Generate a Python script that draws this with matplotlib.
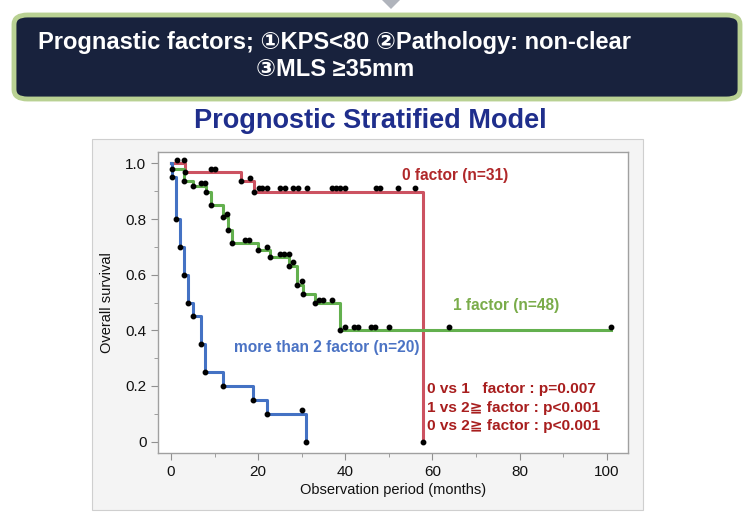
import numpy as np
import matplotlib
matplotlib.use('Agg')
import matplotlib.pyplot as plt
from matplotlib.patches import FancyBboxPatch, Rectangle, Polygon

plt.rcParams['font.family'] = ['Liberation Sans', 'DejaVu Sans']

# step curves (time in months, survival level after the drop)
red_t = [0, 3.2, 16.0, 19.0, 57.8]
red_s = [1.0, 0.968, 0.935, 0.897, 0.0]
red_cens = [1.5, 3.0, 9.2, 10.1, 18.2, 20.1, 21.0, 22.0, 25.1, 26.1, 28.1, 29.1,
            31.2, 36.9, 37.9, 38.9, 40.0, 47.1, 48.0, 52.1, 55.9]

green_t = [0, 0.3, 3.0, 5.0, 8.0, 9.1, 12.0, 13.2, 14.0, 20.0, 22.8, 27.2, 28.9,
           30.2, 33.1, 38.9]
green_s = [1.0, 0.979, 0.938, 0.917, 0.896, 0.852, 0.806, 0.76, 0.713, 0.688, 0.662,
           0.632, 0.563, 0.53, 0.497, 0.40]
green_end = 100.9
green_cens = [7.0, 7.9, 12.9, 17.0, 18.0, 22.0, 25.0, 26.0, 27.0, 28.0, 30.0, 34.0,
              35.0, 36.9, 39.9, 42.1, 42.9, 45.8, 46.8, 50.0, 63.9, 100.9]

blue_t = [0, 0.3, 1.2, 2.1, 3.1, 4.0, 5.0, 6.9, 7.8, 11.9, 18.9, 22.0, 31.0]
blue_s = [1.0, 0.95, 0.8, 0.7, 0.6, 0.5, 0.45, 0.35, 0.25, 0.2, 0.15, 0.1, 0.0]
blue_cens = [30.1]

xticks = [0, 20, 40, 60, 80, 100]
yticks = [0, 0.2, 0.4, 0.6, 0.8, 1.0]
ytick_labels = ['0', '0.2', '0.4', '0.6', '0.8', '1.0']

p_lines = ['0 vs 1   factor : p=0.007',
           '1 vs 2\u2267 factor : p<0.001',
           '0 vs 2\u2267 factor : p<0.001']


def level_at(t_list, s_list, t):
    i = np.searchsorted(t_list, t, side='right') - 1
    return s_list[max(i, 0)]


fig = plt.figure(figsize=(7.54, 5.18), dpi=100)
fig.patch.set_facecolor('white')
W, H = 754.0, 518.0

# grey panel behind the chart
fig.patches.append(Rectangle((92 / W, 1 - 510 / H), 551 / W, 371 / H,
                             transform=fig.transFigure, facecolor='#f4f4f4',
                             edgecolor='#cfcfcf', linewidth=0.8, zorder=-5))

# little arrow at the top
fig.patches.append(Polygon([(382 / W, 1.0), (400 / W, 1.0), (391 / W, 1 - 9 / H)],
                           closed=True, transform=fig.transFigure,
                           facecolor='#b0b4bc', edgecolor='none'))

# header box
fig.patches.append(FancyBboxPatch((14 / W, 1 - 99 / H), 726 / W, 84 / H,
                                  boxstyle='round,pad=0,rounding_size=0.018',
                                  transform=fig.transFigure, facecolor='#18223d',
                                  edgecolor='#b9d193', linewidth=3.5))
fig.text(38 / W, 1 - 42 / H, 'Prognastic factors; \u2460KPS<80 \u2461Pathology: non-clear',
         color='white', fontsize=17, fontweight='bold', va='center', ha='left')
fig.text(256 / W, 1 - 70 / H, '\u2462MLS \u226535mm',
         color='white', fontsize=17, fontweight='bold', va='center', ha='left')

fig.text(370 / W, 1 - 121 / H, 'Prognostic Stratified Model', color='#1f2e8c',
         fontsize=19.5, fontweight='bold', ha='center', va='center')

ax = fig.add_axes([158.3 / W, 1 - 453.3 / H, 469.4 / W, 301.6 / H])
ax.set_facecolor('white')

ax.step(red_t, red_s, where='post', color='#cc5261', lw=2.2, zorder=2)
ax.step(green_t + [green_end], green_s + [green_s[-1]], where='post',
        color='#63b04e', lw=2.2, zorder=2)
ax.step(blue_t, blue_s, where='post', color='#4472c4', lw=2.2, zorder=3)

# event points at step corners
for tt, ss in [(red_t, red_s), (green_t, green_s), (blue_t, blue_s)]:
    ax.plot(tt[1:], ss[1:], 'o', color='black', ms=3.2, zorder=4)

# censor marks slightly above the line
for tt, ss, cens in [(red_t, red_s, red_cens), (green_t, green_s, green_cens),
                     (blue_t, blue_s, blue_cens)]:
    ys = [level_at(tt, ss, c) + 0.013 for c in cens]
    ax.plot(cens, ys, 'o', color='black', ms=3.2, zorder=4)

ax.text(53.0, 0.957, '0 factor (n=31)', color='#b0282a', fontsize=11.2,
        fontweight='bold', va='center')
ax.text(64.8, 0.49, '1 factor (n=48)', color='#7aac4a', fontsize=11.2,
        fontweight='bold', va='center')
ax.text(14.5, 0.337, 'more than 2 factor (n=20)', color='#4b73c4', fontsize=11.2,
        fontweight='bold', va='center')
for i, line in enumerate(p_lines):
    ax.text(58.8, 0.188 - i * 0.066, line, color='#a81e1e', fontsize=11.1,
            fontweight='bold', va='center',
            family=['Liberation Sans', 'DejaVu Sans'])

ax.set_xlim(-2.9, 104.8)
ax.set_ylim(-0.042, 1.042)
ax.set_xticks(xticks)
ax.set_xticks(np.arange(10, 101, 20), minor=True)
ax.set_yticks(yticks)
ax.set_yticklabels(ytick_labels)
ax.set_yticks(np.arange(0.1, 1.0, 0.2), minor=True)
ax.tick_params(which='both', direction='out', color='#909090', labelsize=11,
               labelcolor='#111111')
ax.tick_params(which='major', length=5)
ax.tick_params(which='minor', length=3)
for sp in ax.spines.values():
    sp.set_color('#a0a0a0')
    sp.set_linewidth(1.0)

ax.set_xlabel('Observation period (months)', fontsize=10.5, color='#111111', labelpad=3)
ax.set_ylabel('Overall survival', fontsize=10.5, color='#111111', labelpad=8)

fig.savefig('out.png', dpi=100)
